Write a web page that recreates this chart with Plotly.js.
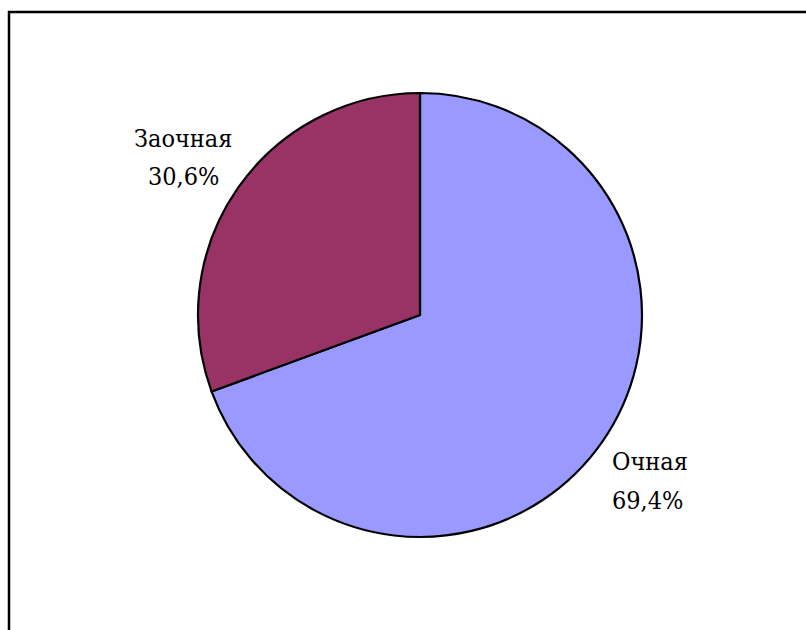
<!DOCTYPE html>
<html>
<head>
<meta charset="utf-8">
<script src="https://cdn.plot.ly/plotly-3.0.1.min.js"></script>
<style>html,body{margin:0;padding:0;background:#fff;}#chart{width:806px;height:630px;}</style>
</head>
<body>
<div id="chart"></div>
<script>
const categories = ["Очная", "Заочная"];
const values = [69.4, 30.6];
const valueLabels = ["69,4%", "30,6%"];
const colors = ["#9999FF", "#993366"];

const W = 806, H = 630;
const px = x => x / W;
const py = y => 1 - y / H;

const trace = {
  type: "pie",
  labels: categories,
  values: values,
  sort: false,
  direction: "clockwise",
  rotation: 0,
  textinfo: "none",
  hoverinfo: "label+percent",
  marker: { colors: colors, line: { color: "#000000", width: 2.2 } },
  domain: { x: [px(198), px(642)], y: [py(537), py(93)] },
  showlegend: false
};

const font = { family: "DejaVu Serif Condensed", size: 25, color: "#000000" };

function label(text, x, yc, xanchor) {
  return { xref: "paper", yref: "paper", x: px(x), y: py(yc), xanchor: xanchor, yanchor: "middle",
           text: text, showarrow: false, font: font, borderpad: 0 };
}

const layout = {
  width: W, height: H,
  margin: { l: 0, r: 0, t: 0, b: 0 },
  paper_bgcolor: "#ffffff",
  showlegend: false,
  font: { family: "DejaVu Serif" },
  annotations: [
    label(categories[0], 611, 462, "left"),
    label(valueLabels[0], 611, 501, "left"),
    label(categories[1], 183, 138, "center"),
    label(valueLabels[1], 183, 176, "center")
  ],
  shapes: [
    { type: "line", xref: "paper", yref: "paper", x0: px(8), x1: 1, y0: py(12), y1: py(12), line: { color: "#000", width: 2.5 } },
    { type: "line", xref: "paper", yref: "paper", x0: px(9), x1: px(9), y0: py(11), y1: 0, line: { color: "#000", width: 2.5 } }
  ]
};

Plotly.newPlot("chart", [trace], layout, { displayModeBar: false, staticPlot: true });
</script>
</body>
</html>
